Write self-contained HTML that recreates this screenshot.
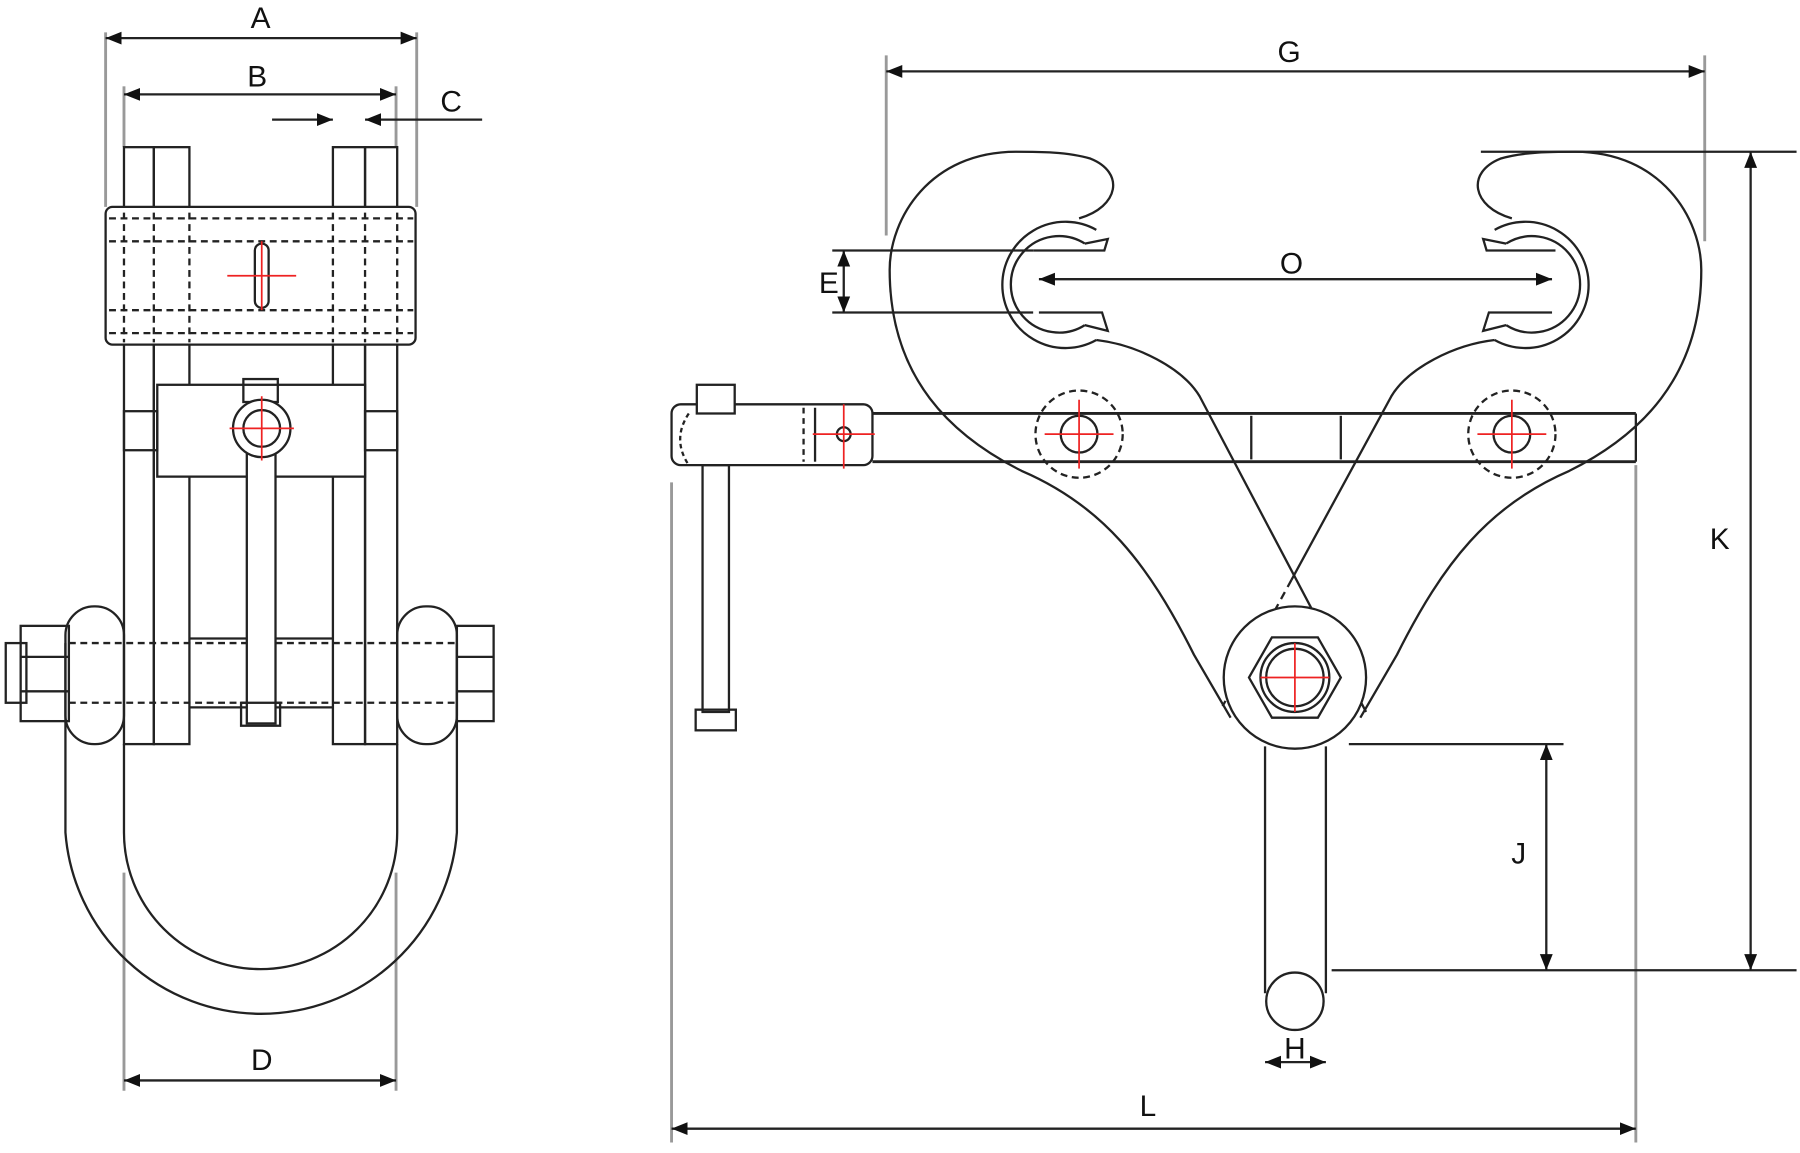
<!DOCTYPE html>
<html><head><meta charset="utf-8"><style>html,body{margin:0;padding:0;background:#fff}svg{display:block}text{font-family:"Liberation Sans",sans-serif;font-size:26px;fill:#111}</style></head>
<body>
<svg width="1800" height="1153" viewBox="0 0 1568 1004" xmlns="http://www.w3.org/2000/svg">
<defs>
<marker id="ar" viewBox="0 0 10 10" refX="10" refY="5" markerWidth="7" markerHeight="7" orient="auto-start-reverse"><path d="M0,1 L10,5 L0,9 z" fill="#111"/></marker>
</defs>
<g fill="none" stroke="#222" stroke-width="2">
<g stroke="#999" stroke-width="2.5">
<line x1="92" y1="28" x2="92" y2="180"/><line x1="363" y1="28" x2="363" y2="180"/>
<line x1="108" y1="75" x2="108" y2="128"/><line x1="345" y1="75" x2="345" y2="128"/>
<line x1="108" y1="760" x2="108" y2="950"/><line x1="345" y1="760" x2="345" y2="950"/>
</g>
<line x1="92" y1="33" x2="363" y2="33" marker-start="url(#ar)" marker-end="url(#ar)"/>
<line x1="108" y1="82" x2="345" y2="82" marker-start="url(#ar)" marker-end="url(#ar)"/>
<line x1="237" y1="104" x2="290" y2="104" marker-end="url(#ar)"/>
<line x1="420" y1="104" x2="318" y2="104" marker-end="url(#ar)"/>
<line x1="108" y1="941" x2="345" y2="941" marker-start="url(#ar)" marker-end="url(#ar)"/>
<path d="M57,560 L57,725 A171,171 0 0 0 398,725 L398,560"/>
<path d="M108,648 L108,725 A119,119 0 0 0 346,725 L346,648"/>
<rect x="57" y="528" width="51" height="120" rx="25"/>
<rect x="346" y="528" width="52" height="120" rx="25"/>
<rect x="108" y="128" width="26" height="520"/><rect x="134" y="128" width="31" height="520"/>
<rect x="290" y="128" width="28" height="520"/><rect x="318" y="128" width="28" height="520"/>
<rect x="92" y="180" width="270" height="120" rx="6" fill="#fff"/>
<g stroke-dasharray="6,4"><line x1="95" y1="190" x2="360" y2="190"/><line x1="95" y1="210" x2="360" y2="210"/><line x1="95" y1="270" x2="360" y2="270"/><line x1="95" y1="290" x2="360" y2="290"/>
<line x1="108" y1="185" x2="108" y2="298"/><line x1="134" y1="185" x2="134" y2="298"/><line x1="165" y1="185" x2="165" y2="298"/><line x1="290" y1="185" x2="290" y2="298"/><line x1="318" y1="185" x2="318" y2="298"/><line x1="346" y1="185" x2="346" y2="298"/></g>
<rect x="222" y="212" width="12" height="56" rx="6"/>
<rect x="137" y="335" width="181" height="80" fill="#fff"/>
<rect x="108" y="358" width="29" height="34"/><rect x="318" y="358" width="28" height="34"/>
<rect x="5" y="560" width="18" height="52"/>
<rect x="18" y="545" width="42" height="83"/><line x1="18" y1="572" x2="60" y2="572"/><line x1="18" y1="602" x2="60" y2="602"/>
<rect x="398" y="545" width="32" height="83"/><line x1="398" y1="572" x2="430" y2="572"/><line x1="398" y1="602" x2="430" y2="602"/>
<g stroke-dasharray="6,4"><line x1="60" y1="560" x2="398" y2="560"/><line x1="60" y1="612" x2="398" y2="612"/></g>
<line x1="165" y1="556" x2="290" y2="556"/><line x1="165" y1="616" x2="290" y2="616"/>
<rect x="215" y="375" width="25" height="255" fill="#fff"/>
<rect x="210" y="612" width="34" height="20"/>
<rect x="212" y="330" width="30" height="20"/>
<circle cx="228" cy="373" r="25" fill="#fff"/><circle cx="228" cy="373" r="16"/>
<g stroke="#999" stroke-width="2.5">
<line x1="772" y1="48" x2="772" y2="205"/><line x1="1485" y1="48" x2="1485" y2="210"/>
<line x1="585" y1="420" x2="585" y2="995"/><line x1="1425" y1="405" x2="1425" y2="995"/>
</g>
<line x1="772" y1="62" x2="1485" y2="62" marker-start="url(#ar)" marker-end="url(#ar)"/>
<line x1="1290" y1="132" x2="1565" y2="132"/><line x1="1160" y1="845" x2="1565" y2="845"/>
<line x1="1525" y1="132" x2="1525" y2="845" marker-start="url(#ar)" marker-end="url(#ar)"/>
<line x1="1175" y1="648" x2="1362" y2="648"/>
<line x1="1347" y1="648" x2="1347" y2="845" marker-start="url(#ar)" marker-end="url(#ar)"/>
<line x1="1102" y1="925" x2="1155" y2="925" marker-start="url(#ar)" marker-end="url(#ar)"/>
<line x1="585" y1="983" x2="1425" y2="983" marker-start="url(#ar)" marker-end="url(#ar)"/>
<line x1="905" y1="243" x2="1352" y2="243" marker-start="url(#ar)" marker-end="url(#ar)"/>
<line x1="725" y1="218" x2="900" y2="218"/><line x1="725" y1="272" x2="900" y2="272"/>
<line x1="735" y1="218" x2="735" y2="272" marker-start="url(#ar)" marker-end="url(#ar)"/>
<path d="M940,190 C975,180 980,150 950,138 C930,132 905,132 885,132 C810,132 775,190 775,235 C775,330 830,380 890,410 C960,440 1000,490 1040,570 L1072,625"/>
<path d="M1317,190 C1282,180 1277,150 1307,138 C1327,132 1352,132 1372,132 C1447,132 1482,190 1482,235 C1482,330 1427,380 1367,410 C1297,440 1257,490 1217,570 L1185,625"/>
<path d="M955,200 A55,55 0 1 0 955,296"/><path d="M945,212 A42,42 0 1 0 945,283"/>
<path d="M945,212 L965,208 L962,218 L900,218 M945,283 L965,288 L960,272 L905,272"/>
<path d="M1302,200 A55,55 0 1 1 1302,296"/><path d="M1312,212 A42,42 0 1 1 1312,283"/>
<path d="M1312,212 L1292,208 L1295,218 L1355,218 M1312,283 L1292,288 L1297,272 L1352,272"/>
<path d="M955,296 C990,300 1030,320 1045,345 L1190,620"/>
<path d="M1302,296 C1267,300 1227,320 1212,345 L1125,505"/>
<path d="M1125,505 L1065,615" stroke-dasharray="7,5"/>
<line x1="760" y1="360" x2="1425" y2="360" stroke-width="2.5"/><line x1="760" y1="402" x2="1425" y2="402" stroke-width="2.5"/>
<line x1="1425" y1="360" x2="1425" y2="402"/>
<line x1="1090" y1="362" x2="1090" y2="400"/><line x1="1168" y1="362" x2="1168" y2="400"/>
<rect x="585" y="352" width="175" height="53" rx="8" fill="#fff"/>
<line x1="700" y1="355" x2="700" y2="402" stroke-dasharray="5,4"/><line x1="710" y1="355" x2="710" y2="402"/>
<circle cx="940" cy="378" r="38" stroke-dasharray="6,4"/><circle cx="940" cy="378" r="16"/>
<circle cx="1317" cy="378" r="38" stroke-dasharray="6,4"/><circle cx="1317" cy="378" r="16"/>
<circle cx="735" cy="378" r="6"/>
<rect x="607" y="335" width="33" height="25" fill="#fff"/>
<rect x="612" y="405" width="23" height="215"/>
<rect x="606" y="618" width="35" height="18"/>
<path d="M600,360 C590,375 590,390 600,405" stroke-dasharray="4,3"/>
<circle cx="1128" cy="590" r="62" fill="#fff"/>
<polygon points="1168,590 1148,625 1108,625 1088,590 1108,555 1148,555"/>
<circle cx="1128" cy="590" r="30"/><circle cx="1128" cy="590" r="25"/>
<path d="M1102,650 L1102,865 M1155,650 L1155,865"/>
<circle cx="1128" cy="872" r="25"/>
</g>
<g stroke="#e22" stroke-width="1.5">
<line x1="198" y1="240" x2="258" y2="240"/><line x1="228" y1="210" x2="228" y2="270"/>
<line x1="200" y1="373" x2="256" y2="373"/><line x1="228" y1="345" x2="228" y2="401"/>
<line x1="910" y1="378" x2="970" y2="378"/><line x1="940" y1="348" x2="940" y2="408"/>
<line x1="1287" y1="378" x2="1347" y2="378"/><line x1="1317" y1="348" x2="1317" y2="408"/>
<line x1="708" y1="378" x2="762" y2="378"/><line x1="735" y1="352" x2="735" y2="408"/>
<line x1="1098" y1="590" x2="1158" y2="590"/><line x1="1128" y1="560" x2="1128" y2="620"/>
</g>
<text x="227" y="24" text-anchor="middle">A</text>
<text x="224" y="75" text-anchor="middle">B</text>
<text x="393" y="97" text-anchor="middle">C</text>
<text x="228" y="932" text-anchor="middle">D</text>
<text x="1123" y="54" text-anchor="middle">G</text>
<text x="1125" y="238" text-anchor="middle">O</text>
<text x="722" y="255" text-anchor="middle">E</text>
<text x="1498" y="478" text-anchor="middle">K</text>
<text x="1323" y="752" text-anchor="middle">J</text>
<text x="1128" y="922" text-anchor="middle">H</text>
<text x="1000" y="972" text-anchor="middle">L</text>
</svg>
</body></html>
